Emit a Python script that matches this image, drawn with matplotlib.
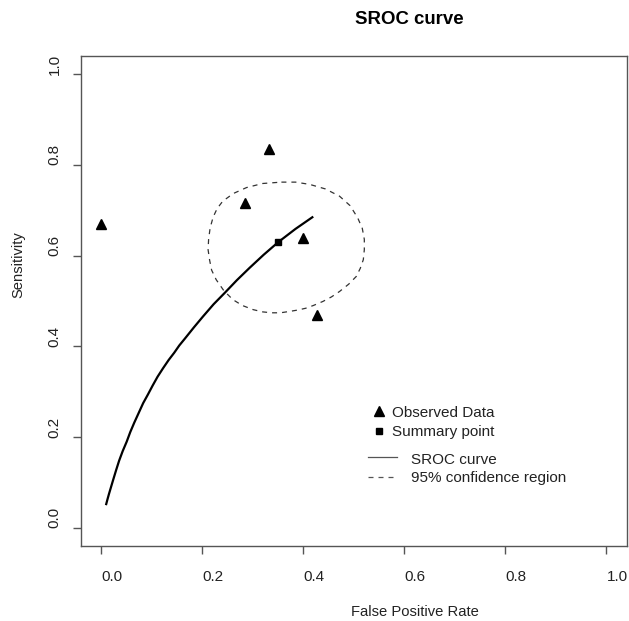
import matplotlib
matplotlib.use("Agg")
import matplotlib.pyplot as plt
from matplotlib.lines import Line2D
import matplotlib.transforms as mtransforms

plt.rcParams['font.family'] = ['Liberation Sans', 'DejaVu Sans']

# ---- data ----
obs_fpr = [0.000, 0.332, 0.285, 0.400, 0.428]
obs_sens = [0.669, 0.836, 0.717, 0.638, 0.469]

summary_fpr = [0.351]
summary_sens = [0.630]

sroc_fpr = [0.0099, 0.013, 0.016, 0.020, 0.024, 0.030, 0.036, 0.043, 0.051, 0.058,
            0.066, 0.075, 0.0836, 0.093, 0.102, 0.112, 0.123, 0.134, 0.145, 0.155,
            0.166, 0.184, 0.202, 0.223, 0.245, 0.269, 0.294, 0.322, 0.351, 0.385, 0.420]
sroc_sens = [0.050, 0.063, 0.075, 0.090, 0.105, 0.127, 0.148, 0.169, 0.190, 0.211,
             0.232, 0.254, 0.275, 0.294, 0.313, 0.333, 0.352, 0.370, 0.386, 0.402,
             0.417, 0.442, 0.466, 0.493, 0.518, 0.546, 0.573, 0.602, 0.630, 0.659, 0.686]

ell_fpr = [0.357, 0.385, 0.413, 0.444, 0.472, 0.493, 0.508, 0.517, 0.521, 0.521,
           0.519, 0.513, 0.505, 0.490, 0.472, 0.456, 0.439, 0.420, 0.405, 0.389,
           0.373, 0.355, 0.338, 0.320, 0.301, 0.280, 0.261, 0.243, 0.228, 0.219,
           0.215, 0.212, 0.213, 0.216, 0.222, 0.230, 0.241, 0.262, 0.288, 0.320, 0.357]
ell_sens = [0.762, 0.762, 0.757, 0.747, 0.731, 0.710, 0.683, 0.660, 0.636, 0.613,
            0.591, 0.572, 0.554, 0.537, 0.521, 0.509, 0.499, 0.490, 0.484, 0.480,
            0.477, 0.474, 0.474, 0.476, 0.481, 0.490, 0.503, 0.523, 0.547, 0.568,
            0.590, 0.613, 0.636, 0.661, 0.685, 0.704, 0.720, 0.737, 0.750, 0.759, 0.762]

xticks = [0.0, 0.2, 0.4, 0.6, 0.8, 1.0]
yticks = [0.0, 0.2, 0.4, 0.6, 0.8, 1.0]
tick_labels = ["0.0", "0.2", "0.4", "0.6", "0.8", "1.0"]

legend_labels = ["Observed Data", "Summary point", "SROC curve", "95% confidence region"]

# ---- figure ----
W, H = 629, 621
fig = plt.figure(figsize=(W / 100, H / 100), dpi=100)
ax = fig.add_axes([80.7 / W, 1 - 546 / H, (626.7 - 80.7) / W, (546 - 56) / H])
ax.set_xlim(-0.04, 1.04)
ax.set_ylim(-0.04, 1.04)

spine_col = '#555555'
text_col = '#222222'
fs = 11
fs_lab = 10.6
for s in ax.spines.values():
    s.set_color(spine_col)
    s.set_linewidth(1.0)

ax.set_xticks(xticks)
ax.set_yticks(yticks)
ax.set_xticklabels([])
ax.set_yticklabels([])
ax.tick_params(direction='out', length=6, width=1.0, color=spine_col)

# tick labels (placed like the reference)
xt = mtransforms.offset_copy(ax.get_xaxis_transform(), fig=fig, x=11, y=-31, units='dots')
for v, lab in zip(xticks, tick_labels):
    ax.text(v, 0, lab, transform=xt, ha='center', va='center', fontsize=fs, color=text_col)
yt = mtransforms.offset_copy(ax.get_yaxis_transform(), fig=fig, x=-26, y=10, units='dots')
for v, lab in zip(yticks, tick_labels):
    ax.text(0, v, lab, transform=yt, ha='center', va='center', rotation=90,
            fontsize=fs, color=text_col)

# data
ax.plot(ell_fpr, ell_sens, color='#333333', lw=0.9, linestyle=(0, (4, 4)))
ax.plot(sroc_fpr, sroc_sens, color='black', lw=1.6, solid_capstyle='butt')
ax.plot(obs_fpr, obs_sens, linestyle='none', marker='^', color='black', markersize=6.5)
ax.plot(summary_fpr, summary_sens, linestyle='none', marker='s', color='black', markersize=5)

# titles / axis labels
fig.text(409 / W, 1 - 20 / H, "SROC curve", ha='center', va='center',
         fontsize=13.4, fontweight='bold', color='black')
fig.text(415 / W, 1 - 612 / H, "False Positive Rate", ha='center', va='center',
         fontsize=fs_lab, color=text_col)
fig.text(18 / W, 1 - 265 / H, "Sensitivity", ha='center', va='center', rotation=90,
         fontsize=fs_lab, color=text_col)

# legend (manual, R style)
def fx(p):
    return p / W

def fy(p):
    return 1 - p / H

fig.add_artist(Line2D([fx(379)], [fy(410.7)], marker='^', color='black', markersize=6.5,
                      linestyle='none', transform=fig.transFigure))
fig.add_artist(Line2D([fx(379)], [fy(431)], marker='s', color='black', markersize=4.5,
                      linestyle='none', transform=fig.transFigure))
fig.add_artist(Line2D([fx(368), fx(397)], [fy(457.3), fy(457.3)], color='#555555', lw=0.9,
                      transform=fig.transFigure))
fig.add_artist(Line2D([fx(368), fx(397)], [fy(476.7), fy(476.7)], color='#555555', lw=0.9,
                      linestyle=(0, (4, 4)), transform=fig.transFigure))
leg_pos = [(392, 413), (392, 432), (411, 460), (411, 478)]
for (px, py), lab in zip(leg_pos, legend_labels):
    fig.text(fx(px), fy(py), lab, ha='left', va='center', fontsize=fs, color=text_col)

fig.savefig("out.png", dpi=100)
